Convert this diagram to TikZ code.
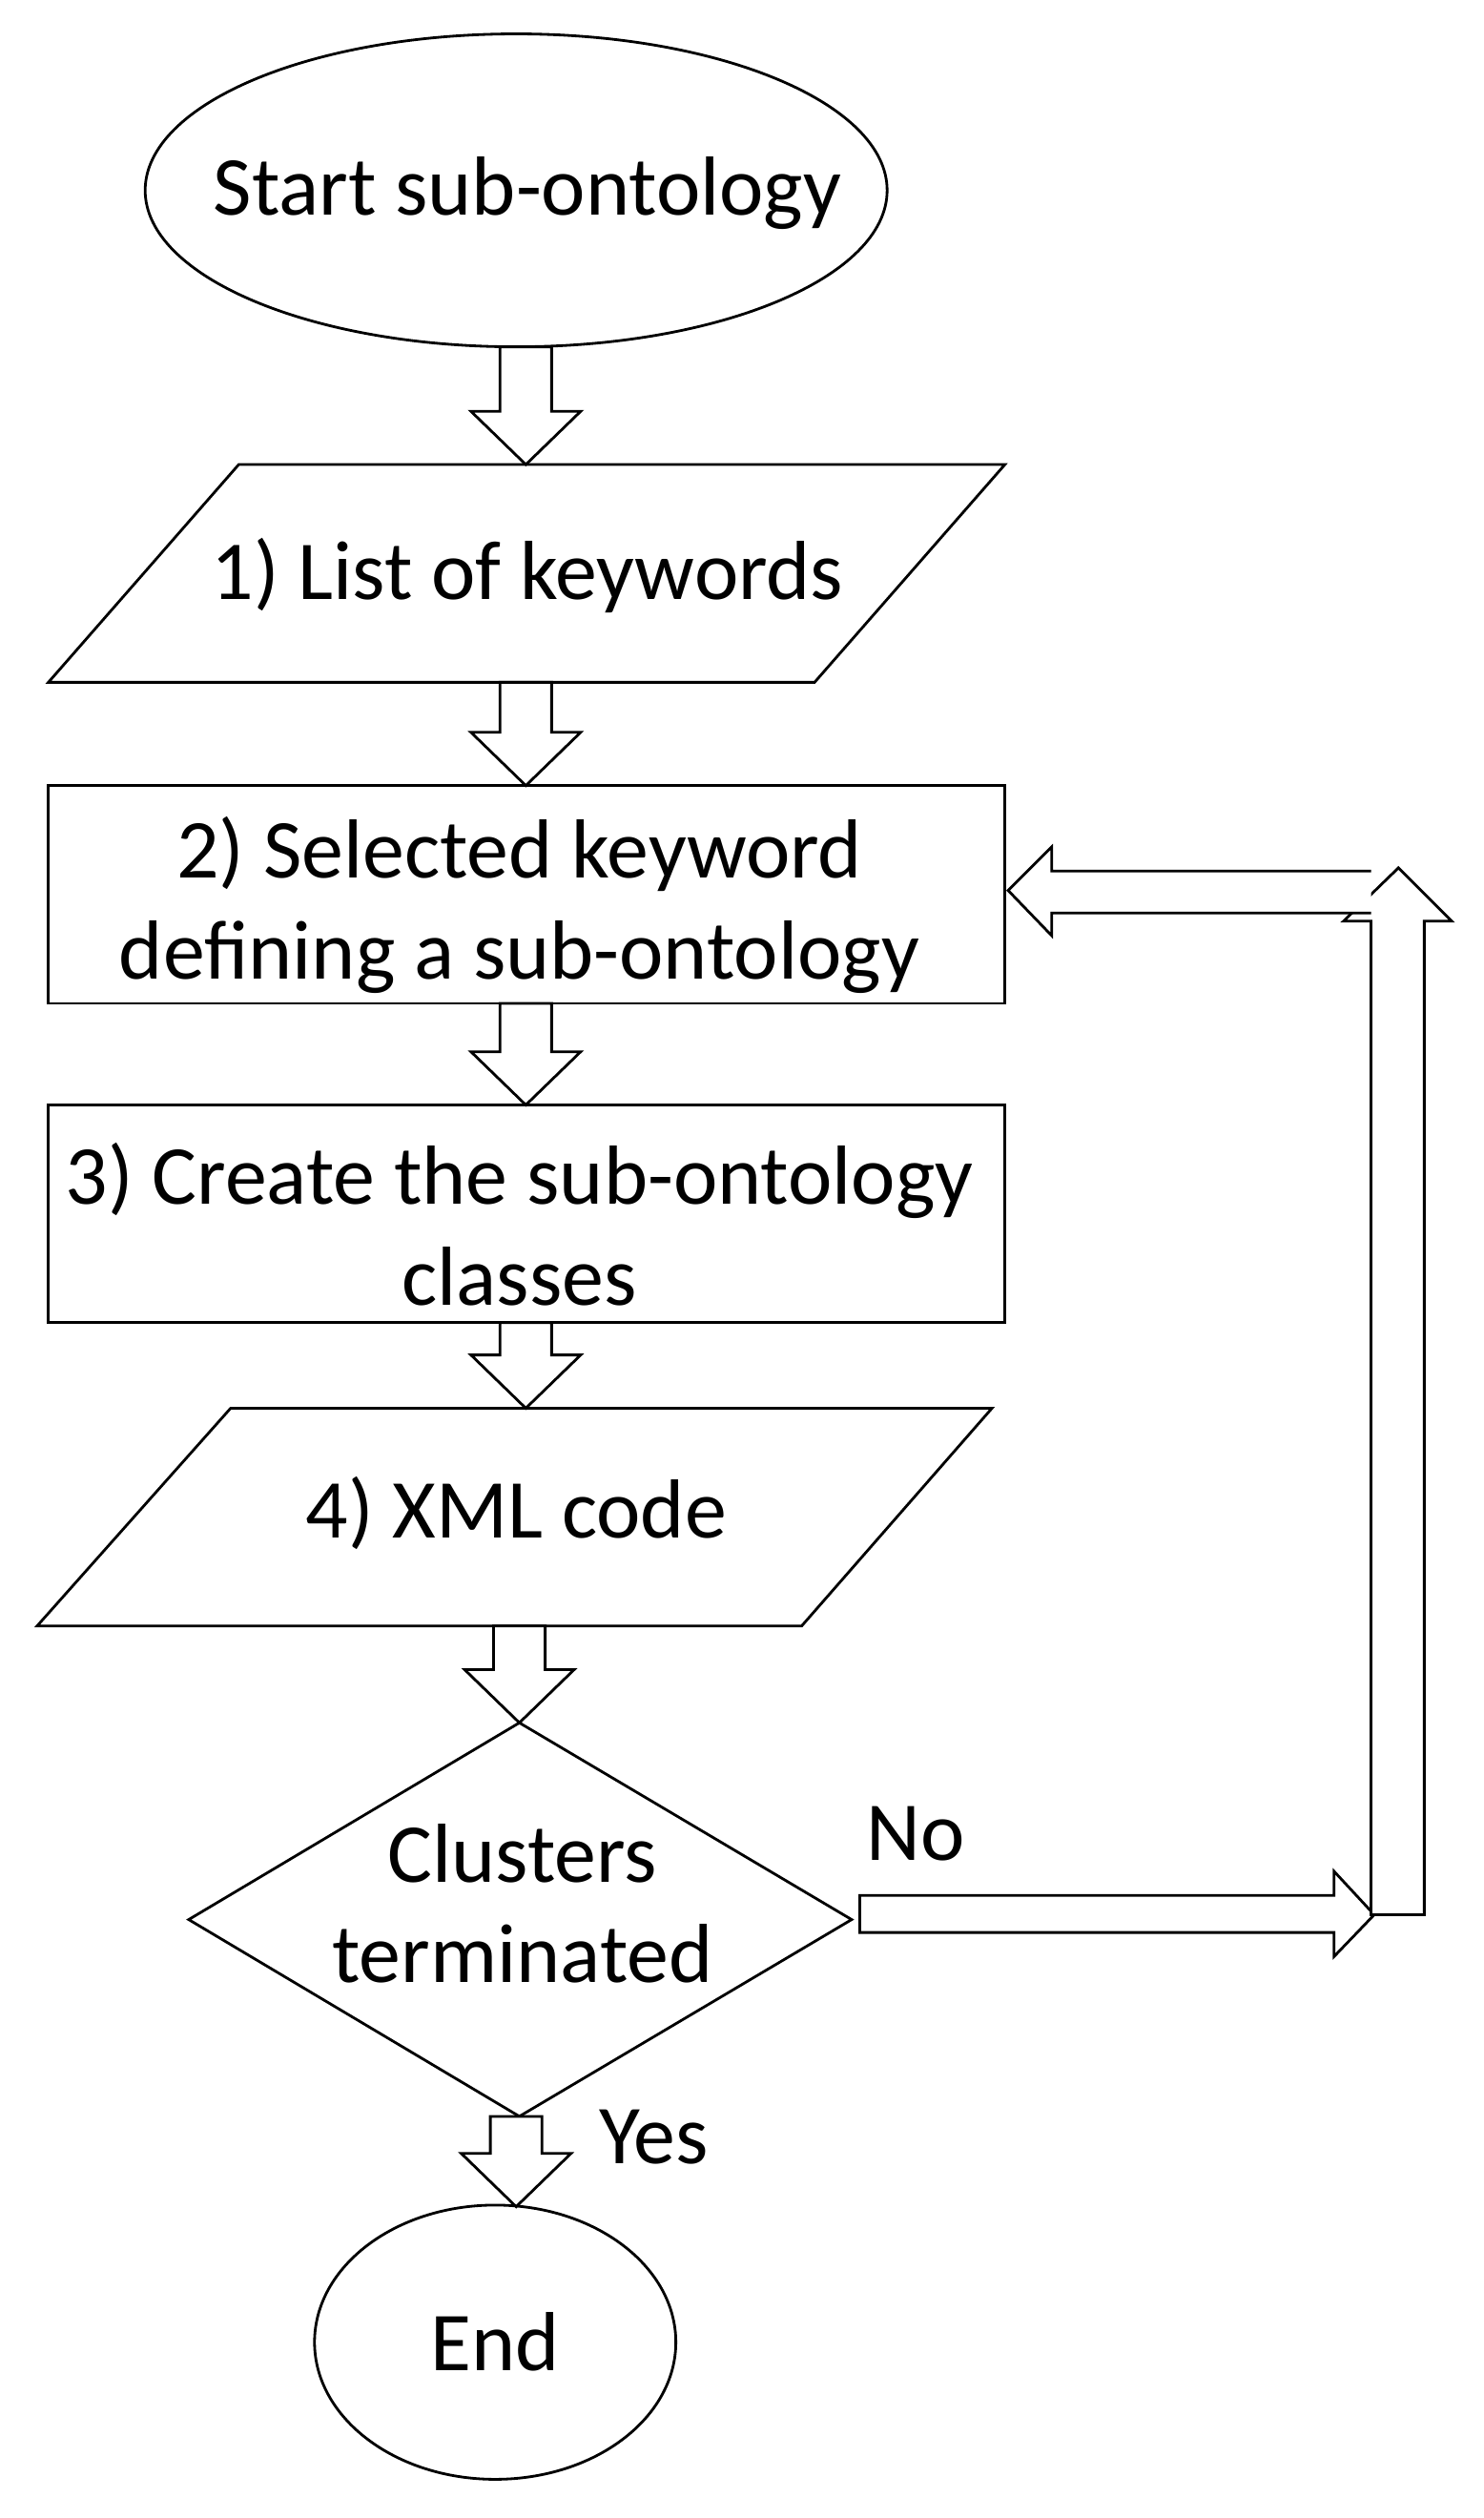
\documentclass[tikz,border=0pt]{standalone}
\usepackage{fontspec}
\setmainfont{Carlito}
\usetikzlibrary{shapes.geometric,calc}

% hollow arrow pointing down: x centre, y top, y tip
\newcommand{\blockdown}[3]{%
  \draw[box] (#1-16,#2) -- (#1+16,#2) -- (#1+16,#3-33) -- (#1+34,#3-33) -- (#1,#3)
    -- (#1-34,#3-33) -- (#1-16,#3-33) -- cycle;}

\tikzset{
  box/.style={draw=black, line width=0.8pt, fill=white},
  lbl/.style={font=\fontsize{25}{30}\selectfont, align=center}
}

\begin{document}
\begin{tikzpicture}[x=0.1691mm, y=-0.1691mm]
  \useasboundingbox (0,0) rectangle (920,1561);

  % shapes
  \draw[box] (320,118) ellipse (230 and 97);
  \node[lbl] (start) at (327,120) {Start sub-ontology};

  \draw[box] (148,288) -- (623,288) -- (505,423) -- (30,423) -- cycle;
  \node[lbl] (keywords) at (327,357) {1) List of keywords};

  \draw[box] (30,487) rectangle (623,622);
  \node[lbl] (selected) at (322,561) {2) Selected keyword\\defining a sub-ontology};

  \draw[box] (30,685) rectangle (623,820);
  \node[lbl] (create) at (322,759) {3) Create the sub-ontology\\classes};

  \draw[box] (143,873) -- (615,873) -- (497,1008) -- (23,1008) -- cycle;
  \node[lbl] (xml) at (320,938) {4) XML code};

  \draw[box] (322,1068) -- (528,1190) -- (322,1312) -- (117,1190) -- cycle;
  \node[lbl] (clusters) at (324,1180) {Clusters\\terminated};

  \draw[box] (307,1452) ellipse (112 and 85);
  \node[lbl] (end) at (307,1452) {End};

  % connectors
  \blockdown{326}{215}{288}
  \blockdown{326}{423}{487}
  \blockdown{326}{622}{685}
  \blockdown{326}{820}{873}
  \blockdown{322}{1008}{1068}
  \blockdown{320}{1312}{1368}

  % No branch
  \draw[box] (533,1175) -- (827,1175) -- (827,1160) -- (852,1187) -- (827,1213)
    -- (827,1198) -- (533,1198) -- cycle;
  \draw[box] (850,1187) -- (883,1187) -- (883,571) -- (900,571) -- (867,538)
    -- (833,571) -- (850,571) -- cycle;
  \draw[box] (850,566) -- (652,566) -- (652,580) -- (625,552) -- (652,525)
    -- (652,540) -- (850,540);

  \node[lbl, anchor=west] (no) at (530,1137) {No};
  \node[lbl, anchor=west] (yes) at (364,1325) {Yes};
\end{tikzpicture}
\end{document}
